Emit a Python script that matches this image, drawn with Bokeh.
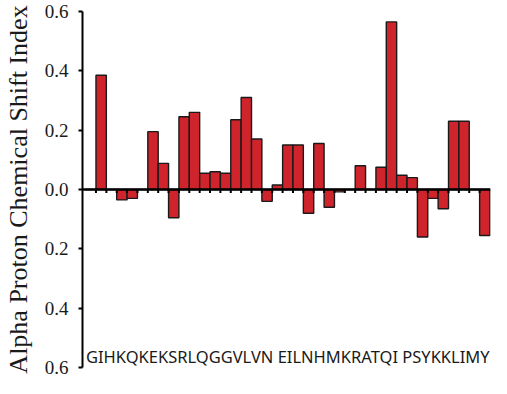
from bokeh.plotting import figure
from bokeh.models import Range1d, Label, FixedTicker, Span
from bokeh.embed import file_html
from bokeh.resources import INLINE

residues = list("GIHKQKEKSRLQGGVLVNEILNHMKRATQIPSYKKLIMY")
sequence_label = "GIHKQKEKSRLQGGVLVN EILNHMKRATQI PSYKKLIMY"
csi = [0, 0.385, 0, -0.035, -0.03, 0, 0.195, 0.088, -0.095, 0.245,
       0.26, 0.055, 0.06, 0.055, 0.235, 0.31, 0.17, -0.04, 0.015, 0.15,
       0.15, -0.08, 0.155, -0.06, -0.008, 0, 0.08, 0, 0.075, 0.565,
       0.048, 0.04, -0.16, -0.03, -0.065, 0.23, 0.23, 0, -0.155]
y_ticks = [-0.6, -0.4, -0.2, 0.0, 0.2, 0.4, 0.6]
y_tick_labels = ["0.6", "0.4", "0.2", "0.0", "0.2", "0.4", "0.6"]

n = len(residues)
xs = [i + 0.5 for i in range(n)]

p = figure(width=491, height=378, output_backend="svg", toolbar_location=None,
           x_range=Range1d(-0.3, n + 0.05), y_range=Range1d(-0.6, 0.6),
           min_border_top=11, min_border_bottom=11, min_border_right=1,
           min_border_left=75)
p.outline_line_color = None
p.grid.visible = False
p.xaxis.visible = False
p.background_fill_color = "white"
p.border_fill_color = "white"

p.vbar(x=xs, top=csi, bottom=0, width=1.0, fill_color="#d0242c",
       line_color="#1a1a1a", line_width=1.4)

p.add_layout(Span(location=0, dimension="width", line_color="black", line_width=2.5))
bx = list(range(1, n))
p.segment(x0=bx, y0=[0] * len(bx), x1=bx, y1=[-0.012] * len(bx),
          line_color="black", line_width=2)

ax = p.yaxis[0]
ax.ticker = FixedTicker(ticks=y_ticks)
ax.major_label_overrides = {t: l for t, l in zip(y_ticks, y_tick_labels)}
ax.minor_tick_line_color = None
ax.major_tick_in = 0
ax.major_tick_out = 4
ax.major_tick_line_width = 2
ax.axis_line_width = 2
ax.axis_line_color = "black"
ax.major_tick_line_color = "black"
ax.major_label_text_font = "Liberation Serif"
ax.major_label_text_font_size = "19px"
ax.major_label_text_color = "#1a1a1a"
ax.major_label_standoff = 10
ax.axis_label = "Alpha Proton Chemical Shift Index"
ax.axis_label_text_font = "Liberation Serif"
ax.axis_label_text_font_size = "26px"
ax.axis_label_text_font_style = "normal"
ax.axis_label_text_color = "#1a1a1a"
ax.axis_label_standoff = 9

p.add_layout(Label(x=n / 2, y=-0.562, text=sequence_label, text_align="center",
                   text_baseline="middle", text_font="Noto Sans",
                   text_font_size="16.5px", text_color="#1a1a1a"))

open("out.html", "w").write(file_html(p, INLINE))
